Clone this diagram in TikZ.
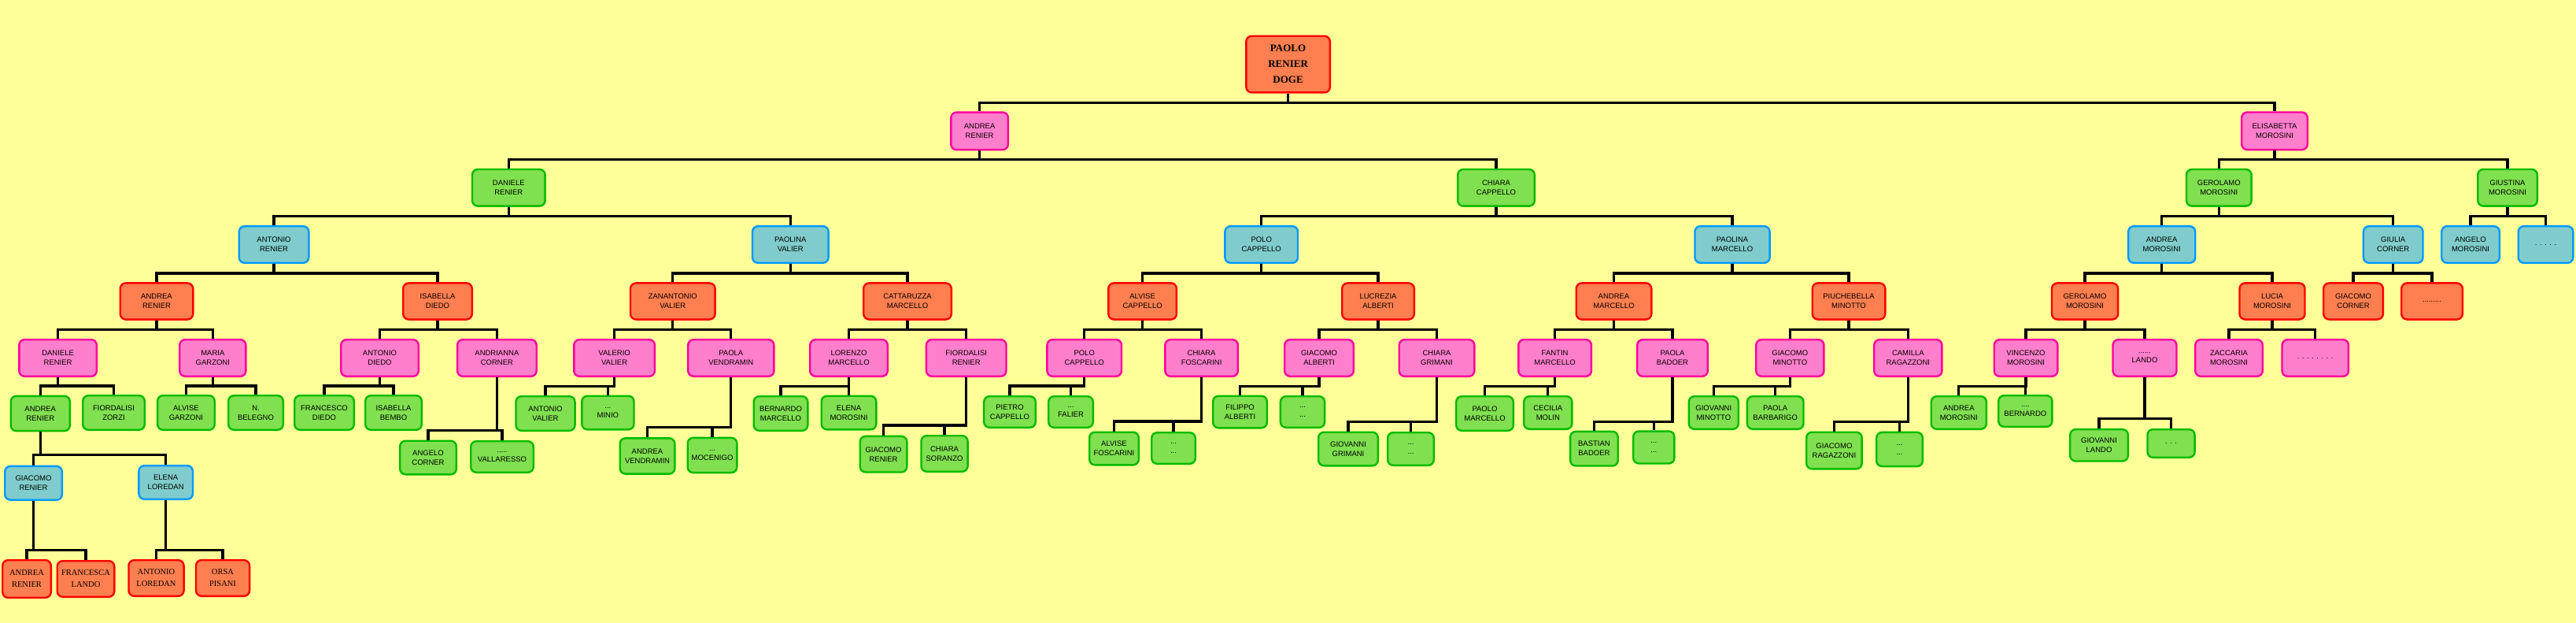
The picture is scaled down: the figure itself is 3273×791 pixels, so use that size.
\documentclass[tikz,border=0pt]{standalone}
\usepackage{fontspec}
\setmainfont{Liberation Sans}
\newfontfamily\serifx{Liberation Serif}
\definecolor{bgc}{HTML}{FFFF99}
\definecolor{orf}{HTML}{FF7F50}
\definecolor{ord}{HTML}{FF0000}
\definecolor{pkf}{HTML}{FF7FCC}
\definecolor{pkd}{HTML}{FF00A0}
\definecolor{gnf}{HTML}{80E050}
\definecolor{gnd}{HTML}{00BB00}
\definecolor{cyf}{HTML}{80CCCC}
\definecolor{cyd}{HTML}{0099FF}
\tikzset{
  box/.style={rounded corners=7pt, line width=2.4pt, align=center, inner sep=0pt,
    font=\fontsize{9.5}{12}\selectfont},
  orb/.style={box, draw=ord, fill=orf},
  pkb/.style={box, draw=pkd, fill=pkf},
  gnb/.style={box, draw=gnd, fill=gnf},
  cyb/.style={box, draw=cyd, fill=cyf},
  doge/.style={orb, font=\serifx\bfseries\fontsize{13}{20}\selectfont},
  ors/.style={orb, font=\serifx\fontsize{10.5}{15}\selectfont},
  conn/.style={line width=3.3pt, black}
}
\newcommand\bx[7]{\node[#1, minimum width={#5pt-2.4pt}, minimum height={#6pt-2.4pt}] (#2) at (#3,#4) {#7};}
\newcommand\famlink[3]{\path (0,#2) coordinate (barY);
  \foreach \c in {#3}{\draw[conn] (#1.south) -- (#1.south |- barY) -| (\c.north);}}
\begin{document}
\begin{tikzpicture}[x=1pt,y=-1pt]
\fill[bgc] (0,0) rectangle (3273,791);
\useasboundingbox (0,0) rectangle (3273,791);
% level 0
\bx{doge}{p0}{1636.6}{81.6}{109}{74}{PAOLO\\RENIER\\DOGE}
% level 1
\bx{pkb}{a1}{1244.6}{166.4}{75}{50}{ANDREA\\RENIER}
\bx{pkb}{e1}{2890}{166.3}{86}{50}{ELISABETTA\\MOROSINI}
% level 2
\bx{gnb}{d2}{646.3}{238.3}{95}{49}{DANIELE\\RENIER}
\bx{gnb}{c2}{1901}{238.3}{100}{49}{CHIARA\\CAPPELLO}
\bx{gnb}{g2}{2819.3}{238.3}{85}{49}{GEROLAMO\\MOROSINI}
\bx{gnb}{gi2}{3186}{238.3}{78}{49}{GIUSTINA\\MOROSINI}
% level 3
\bx{cyb}{ar3}{348}{310.5}{91}{49}{ANTONIO\\RENIER}
\bx{cyb}{pv3}{1004.3}{310.5}{99}{49}{PAOLINA\\VALIER}
\bx{cyb}{pc3}{1602.7}{310.5}{95}{49}{POLO\\CAPPELLO}
\bx{cyb}{pm3}{2201}{310.5}{97.5}{49}{PAOLINA\\MARCELLO}
\bx{cyb}{am3}{2746.7}{310.5}{87.5}{49}{ANDREA\\MOROSINI}
\bx{cyb}{gc3}{3040.7}{310.5}{78}{49}{GIULIA\\CORNER}
\bx{cyb}{an3}{3139}{310.5}{76}{49}{ANGELO\\MOROSINI}
\bx{cyb}{dd3}{3234.5}{310.5}{72}{49}{. . . . .}
% level 4
\bx{orb}{ar4}{199}{382.5}{95}{48.5}{ANDREA\\RENIER}
\bx{orb}{id4}{556}{382.5}{90}{48.5}{ISABELLA\\DIEDO}
\bx{orb}{zv4}{854.8}{382.5}{110}{48.5}{ZANANTONIO\\VALIER}
\bx{orb}{cm4}{1153}{382.5}{114}{48.5}{CATTARUZZA\\MARCELLO}
\bx{orb}{ac4}{1451.6}{382.5}{89}{48.5}{ALVISE\\CAPPELLO}
\bx{orb}{la4}{1751}{382.5}{94}{48.5}{LUCREZIA\\ALBERTI}
\bx{orb}{amc4}{2050.5}{382.5}{98}{48.5}{ANDREA\\MARCELLO}
\bx{orb}{pmi4}{2349}{382.5}{95}{48.5}{PIUCHEBELLA\\MINOTTO}
\bx{orb}{gm4}{2649}{382.5}{86.5}{48.5}{GEROLAMO\\MOROSINI}
\bx{orb}{lm4}{2887}{382.5}{85.4}{48.5}{LUCIA\\MOROSINI}
\bx{orb}{gco4}{2990}{382.5}{78}{48.5}{GIACOMO\\CORNER}
\bx{orb}{od4}{3090}{382.5}{80}{48.5}{.........}
% level 5
\bx{pkb}{dr5}{73.6}{454.5}{101}{49}{DANIELE\\RENIER}
\bx{pkb}{mg5}{270.3}{454.5}{86.6}{49}{MARIA\\GARZONI}
\bx{pkb}{ad5}{482.5}{454.5}{101}{49}{ANTONIO\\DIEDO}
\bx{pkb}{ac5}{631.4}{454.5}{103}{49}{ANDRIANNA\\CORNER}
\bx{pkb}{vv5}{780.6}{454.5}{105}{49}{VALERIO\\VALIER}
\bx{pkb}{pve5}{928.8}{454.5}{111.6}{49}{PAOLA\\VENDRAMIN}
\bx{pkb}{lmr5}{1078.5}{454.5}{101}{49}{LORENZO\\MARCELLO}
\bx{pkb}{fr5}{1227.7}{454.5}{104}{49}{FIORDALISI\\RENIER}
\bx{pkb}{pca5}{1377.7}{454.5}{97}{49}{POLO\\CAPPELLO}
\bx{pkb}{cf5}{1526.6}{454.5}{95}{49}{CHIARA\\FOSCARINI}
\bx{pkb}{gal5}{1676}{454.5}{90}{49}{GIACOMO\\ALBERTI}
\bx{pkb}{cg5}{1825.5}{454.5}{98}{49}{CHIARA\\GRIMANI}
\bx{pkb}{fm5}{1975.6}{454.5}{95}{49}{FANTIN\\MARCELLO}
\bx{pkb}{pb5}{2125}{454.5}{92}{49}{PAOLA\\BADOER}
\bx{pkb}{gmi5}{2274.3}{454.5}{88.6}{49}{GIACOMO\\MINOTTO}
\bx{pkb}{cr5}{2424.3}{454.5}{88.6}{49}{CAMILLA\\RAGAZZONI}
\bx{pkb}{vm5}{2574}{454.5}{83}{49}{VINCENZO\\MOROSINI}
\bx{pkb}{ld5}{2725}{454.5}{83.4}{49}{......\\LANDO}
\bx{pkb}{zm5}{2832}{454.5}{88}{49}{ZACCARIA\\MOROSINI}
\bx{pkb}{pd5}{2941.7}{454.5}{86.8}{49}{. . . . . . . .}
% level 6
\bx{gnb}{arg6}{51.25}{525}{77.5}{46.7}{ANDREA\\RENIER}
\bx{gnb}{fz6}{144.5}{524}{81}{46}{FIORDALISI\\ZORZI}
\bx{gnb}{agz6}{236.4}{524}{75}{46}{ALVISE\\GARZONI}
\bx{gnb}{nb6}{325}{524}{72}{46}{N.\\BELEGNO}
\bx{gnb}{fd6}{412}{524}{78}{46}{FRANCESCO\\DIEDO}
\bx{gnb}{ib6}{500}{524}{74}{46}{ISABELLA\\BEMBO}
\bx{gnb}{av6}{693}{525}{77.5}{46}{ANTONIO\\VALIER}
\bx{gnb}{mi6}{772.4}{524}{68.6}{45}{...\\MINIO}
\bx{gnb}{bm6}{992}{525}{71}{46}{BERNARDO\\MARCELLO}
\bx{gnb}{em6}{1078.5}{524}{72}{45}{ELENA\\MOROSINI}
\bx{gnb}{pc6}{1283}{523}{68}{42}{PIETRO\\CAPPELLO}
\bx{gnb}{fa6}{1360.5}{523}{59}{42}{...\\FALIER}
\bx{gnb}{fil6}{1575.5}{523}{71}{43}{FILIPPO\\ALBERTI}
\bx{gnb}{dd6}{1655}{523}{58.6}{42}{...\\...}
\bx{gnb}{pma6}{1886.5}{525}{75}{46}{PAOLO\\MARCELLO}
\bx{gnb}{cmo6}{1966.8}{524}{63.6}{44}{CECILIA\\MOLIN}
\bx{gnb}{gmn6}{2177.3}{524}{65.4}{44}{GIOVANNI\\MINOTTO}
\bx{gnb}{pba6}{2255.7}{524}{74}{44}{PAOLA\\BARBARIGO}
\bx{gnb}{amo6}{2488.8}{524}{72.5}{44}{ANDREA\\MOROSINI}
\bx{gnb}{be6}{2573.3}{522}{70.6}{42}{....\\BERNARDO}
% level 7
\bx{gnb}{ac7}{544}{581}{74}{45}{ANGELO\\CORNER}
\bx{gnb}{va7}{638}{580}{82}{42}{.....\\VALLARESSO}
\bx{gnb}{avd7}{822.5}{579}{72}{47.7}{ANDREA\\VENDRAMIN}
\bx{gnb}{mo7}{905}{578}{65}{46.7}{...\\MOCENIGO}
\bx{gnb}{gr7}{1122.5}{576.7}{62}{48}{GIACOMO\\RENIER}
\bx{gnb}{cs7}{1200}{576}{61.5}{48}{CHIARA\\SORANZO}
\bx{gnb}{af7}{1415.5}{569.5}{65}{44}{ALVISE\\FOSCARINI}
\bx{gnb}{dd7a}{1491}{569}{58}{42}{...\\...}
\bx{gnb}{gg7}{1713}{570}{78}{45}{GIOVANNI\\GRIMANI}
\bx{gnb}{dd7b}{1792.5}{570}{61}{44}{...\\...}
\bx{gnb}{bb7}{2025.4}{569.7}{63}{46}{BASTIAN\\BADOER}
\bx{gnb}{dd7c}{2101.3}{568}{54.6}{43.3}{...\\...}
\bx{gnb}{gra7}{2330.4}{572}{72.8}{49}{GIACOMO\\RAGAZZONI}
\bx{gnb}{dd7d}{2413.5}{570.5}{61}{45.6}{...\\...}
\bx{gnb}{gl7}{2667}{565.3}{76}{42.7}{GIOVANNI\\LANDO}
\bx{gnb}{dd7e}{2758.5}{563}{62.5}{38}{. . .}
% level 8
\bx{cyb}{gre8}{42.5}{613.3}{75}{45.3}{GIACOMO\\RENIER}
\bx{cyb}{el8}{210.7}{612.5}{71}{45}{ELENA\\LOREDAN}
% level 9
\bx{ors}{arb9}{34}{735}{64}{50}{ANDREA\\RENIER}
\bx{ors}{fl9}{109}{735}{75}{48}{FRANCESCA\\LANDO}
\bx{ors}{al9}{198.5}{734}{72.5}{48}{ANTONIO\\LOREDAN}
\bx{ors}{op9}{283}{734}{70.5}{48}{ORSA\\PISANI}
% connectors
\famlink{p0}{130.4}{a1,e1}
\famlink{a1}{202.5}{d2,c2}
\famlink{e1}{202.7}{g2,gi2}
\famlink{d2}{274.7}{ar3,pv3}
\famlink{c2}{274.7}{pc3,pm3}
\famlink{g2}{274.7}{am3,gc3}
\famlink{gi2}{274.7}{an3,dd3}
\famlink{ar3}{347}{ar4,id4}
\famlink{pv3}{347}{zv4,cm4}
\famlink{pc3}{347}{ac4,la4}
\famlink{pm3}{347}{amc4,pmi4}
\famlink{am3}{347}{gm4,lm4}
\famlink{gc3}{347}{gco4,od4}
\famlink{ar4}{418.7}{dr5,mg5}
\famlink{id4}{418.7}{ad5,ac5}
\famlink{zv4}{418.7}{vv5,pve5}
\famlink{cm4}{418.5}{lmr5,fr5}
\famlink{ac4}{418.5}{pca5,cf5}
\famlink{la4}{418.7}{gal5,cg5}
\famlink{amc4}{418.7}{fm5,pb5}
\famlink{pmi4}{418.7}{gmi5,cr5}
\famlink{gm4}{418.7}{vm5,ld5}
\famlink{lm4}{418.7}{zm5,pd5}
\famlink{dr5}{490}{arg6,fz6}
\famlink{mg5}{490}{agz6,nb6}
\famlink{ad5}{490}{fd6,ib6}
\famlink{ac5}{546.7}{ac7,va7}
\famlink{vv5}{490.7}{av6,mi6}
\famlink{pve5}{542.7}{avd7,mo7}
\famlink{lmr5}{490.7}{bm6,em6}
\famlink{fr5}{540}{gr7,cs7}
\famlink{pca5}{490}{pc6,fa6}
\famlink{cf5}{535}{af7,dd7a}
\famlink{gal5}{490.7}{fil6,dd6}
\famlink{cg5}{535.3}{gg7,dd7b}
\famlink{fm5}{490.7}{pma6,cmo6}
\famlink{pb5}{535.3}{bb7,dd7c}
\famlink{gmi5}{490.7}{gmn6,pba6}
\famlink{cr5}{535.3}{gra7,dd7d}
\famlink{vm5}{490.7}{amo6,be6}
\famlink{ld5}{531.7}{gl7,dd7e}
\famlink{arg6}{577.7}{gre8,el8}
\famlink{gre8}{698.7}{arb9,fl9}
\famlink{el8}{698.7}{al9,op9}
\end{tikzpicture}
\end{document}
